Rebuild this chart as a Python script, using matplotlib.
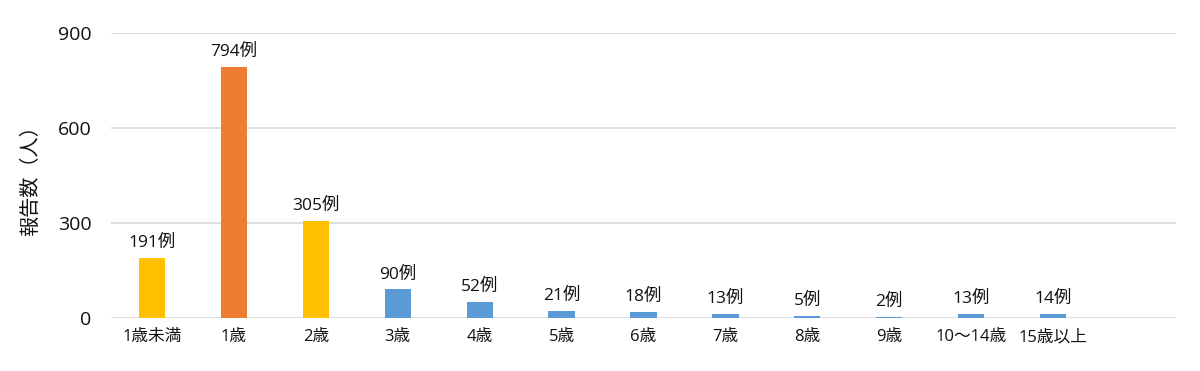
import matplotlib
matplotlib.use('Agg')
import matplotlib.pyplot as plt
import numpy as np

plt.rcParams['font.family'] = ['Open Sans', 'Noto Sans CJK JP', 'DejaVu Sans']

categories = ['1歳未満', '1歳', '2歳', '3歳', '4歳', '5歳', '6歳', '7歳', '8歳', '9歳', '10～14歳', '15歳以上']
counts = [191, 794, 305, 90, 52, 21, 18, 13, 5, 2, 13, 14]
colors = ['#FFC000', '#ED7D31', '#FFC000'] + ['#5B9BD5'] * 9
yticks = [0, 300, 600, 900]

fig = plt.figure(figsize=(12, 3.71), dpi=100)
ax = fig.add_axes([0.0925, 0.1429, 0.8875, 0.7681])

x = np.arange(len(categories))
bars = ax.bar(x, counts, width=0.32, color=colors, zorder=3)

for xi, v in zip(x, counts):
    ax.annotate(f'{v}例', (xi, v), xytext=(0, 5), textcoords='offset points',
                ha='center', va='bottom', fontsize=12.5, color='#111111')

ax.set_xlim(-0.5, len(categories) + 0.5)
ax.set_ylim(0, 900)
ax.set_yticks(yticks)
ax.set_yticklabels([str(t) for t in yticks], fontsize=14, color='#111111')
ax.set_xticks(x)
ax.set_xticklabels(categories, fontsize=12, color='#111111')
ax.tick_params(axis='y', length=0, pad=14)
ax.tick_params(axis='x', length=0, pad=8)
ax.grid(axis='y', color='#D9D9D9', linewidth=1.2, zorder=0)
for s in ax.spines.values():
    s.set_visible(False)
ax.set_ylabel('報告数（人）', fontsize=14.5, color='#111111', labelpad=12)

fig.savefig('out.png', dpi=100)
